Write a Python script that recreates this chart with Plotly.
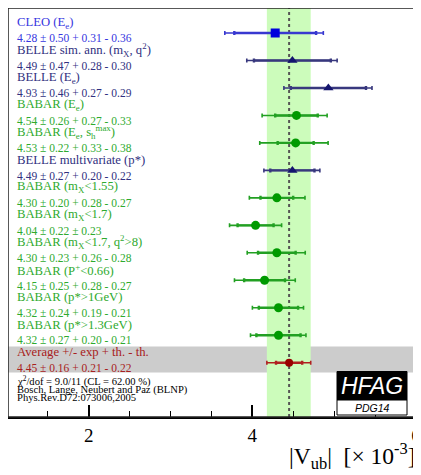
import plotly.graph_objects as go
import numpy as np

# ---- data ----
names = [
    "CLEO (E<sub>e</sub>)",
    "BELLE sim. ann. (m<sub>X</sub>, q<sup>2</sup>)",
    "BELLE (E<sub>e</sub>)",
    "BABAR (E<sub>e</sub>)",
    "BABAR (E<sub>e</sub>, s<sub>h</sub><sup>max</sup>)",
    "BELLE multivariate (p*)",
    "BABAR (m<sub>X</sub>&lt;1.55)",
    "BABAR (m<sub>X</sub>&lt;1.7)",
    "BABAR (m<sub>X</sub>&lt;1.7, q<sup>2</sup>&gt;8)",
    "BABAR (P<sup>+</sup>&lt;0.66)",
    "BABAR (p*&gt;1GeV)",
    "BABAR (p*&gt;1.3GeV)",
]
experiments = ["CLEO", "BELLE", "BELLE", "BABAR", "BABAR", "BELLE",
               "BABAR", "BABAR", "BABAR", "BABAR", "BABAR", "BABAR"]
values = [4.28, 4.49, 4.93, 4.54, 4.53, 4.49, 4.30, 4.04, 4.30, 4.15, 4.32, 4.32]
exp_err = [0.50, 0.47, 0.46, 0.26, 0.22, 0.27, 0.20, 0.22, 0.23, 0.25, 0.24, 0.27]
th_plus = [0.31, 0.28, 0.27, 0.27, 0.33, 0.20, 0.28, 0.23, 0.26, 0.28, 0.19, 0.20]
th_minus = [0.36, 0.30, 0.29, 0.33, 0.38, 0.22, 0.27, 0.23, 0.28, 0.27, 0.21, 0.21]

avg_name = "Average +/- exp + th. - th."
avg_value = 4.45
avg_exp = 0.16
avg_th_plus = 0.21
avg_th_minus = 0.22

footer = [
    "χ<sup>2</sup>/dof = 9.0/11 (CL = 62.00 %)",
    "Bosch, Lange, Neubert and Paz (BLNP)",
    "Phys.Rev.D72:073006,2005",
]
x_ticks = [2, 4, 6]

# ---- styles ----
styles = {
    "CLEO": dict(marker="square", mcolor="#0000dd", bcolor="#3838d0", tcolor="#3535e0"),
    "BELLE": dict(marker="triangle-up", mcolor="#15156e", bcolor="#38387e", tcolor="#303080"),
    "BABAR": dict(marker="circle", mcolor="#009a00", bcolor="#22a022", tcolor="#2eaa2e"),
    "AVG": dict(marker="circle", mcolor="#990000", bcolor="#b02020", tcolor="#a82020"),
}

SERIF = "Liberation Serif, Times New Roman, serif"

# page geometry (page body adds 8px offset)
OFF = 8
PL, PR, PT, PB = 8, 416, 8, 417   # plot area in page pixels
PW, PH = PR - PL, PB - PT

def px2paper_x(xpx):
    return (xpx - PL) / PW

def px2paper_y(ypx):
    return (PB - ypx) / PH

fig = go.Figure()

def fmt(v, e, tp, tm):
    if abs(tp - tm) < 1e-9:
        return f"{v:.2f} ± {e:.2f} ± {tp:.2f}"
    return f"{v:.2f} ± {e:.2f} + {tp:.2f} - {tm:.2f}"

rows = []
for i in range(len(values)):
    rows.append((i, values[i], exp_err[i], th_plus[i], th_minus[i], names[i], experiments[i]))
rows.append((len(values), avg_value, avg_exp, avg_th_plus, avg_th_minus, avg_name, "AVG"))

n_rows = len(rows)
annotations = []
TX = px2paper_x(15)
for (i, v, e, tp, tm, nm, ex) in rows:
    st = styles[ex]
    tot_p = float(np.sqrt(e**2 + tp**2))
    tot_m = float(np.sqrt(e**2 + tm**2))
    # outer (total) error
    fig.add_trace(go.Scatter(
        x=[v], y=[i], mode="markers",
        marker=dict(size=1, color="rgba(0,0,0,0)"),
        error_x=dict(type="data", symmetric=False, array=[tot_p], arrayminus=[tot_m],
                     color=st["bcolor"], thickness=1.6, width=2),
        showlegend=False, hoverinfo="skip"))
    # inner (exp) error
    fig.add_trace(go.Scatter(
        x=[v], y=[i], mode="markers",
        marker=dict(size=9 if ex != "AVG" else 8, color=st["mcolor"], symbol=st["marker"]),
        error_x=dict(type="data", symmetric=True, array=[e],
                     color=st["bcolor"], thickness=2.4, width=2),
        showlegend=False, hoverinfo="skip"))
    annotations.append(dict(xref="paper", yref="y", x=TX, y=i - 0.38, text=nm,
                            showarrow=False, xanchor="left", yanchor="middle",
                            font=dict(family=SERIF, size=12.7, color=st["tcolor"])))
    annotations.append(dict(xref="paper", yref="y", x=TX, y=i + 0.19, text=fmt(v, e, tp, tm),
                            showarrow=False, xanchor="left", yanchor="middle",
                            font=dict(family=SERIF, size=11.5, color=st["tcolor"])))

for k, (txt, yy) in enumerate(zip(footer, [12.67, 12.99, 13.28])):
    annotations.append(dict(xref="paper", yref="y", x=TX, y=yy, text=txt,
                            showarrow=False, xanchor="left", yanchor="middle",
                            font=dict(family=SERIF, size=10.6, color="black")))

# axis title
annotations.append(dict(xref="paper", yref="paper", x=px2paper_x(418), y=px2paper_y(456),
                        text="|V<sub>ub</sub>|&nbsp;&nbsp;[× 10<sup>-3</sup>]",
                        showarrow=False, xanchor="right", yanchor="middle",
                        font=dict(family=SERIF, size=23.5, color="black")))

# HFAG logo
annotations.append(dict(xref="paper", yref="paper", x=px2paper_x(372), y=px2paper_y(386),
                        text="<i>HFAG</i>", showarrow=False, xanchor="center", yanchor="middle",
                        font=dict(family="Liberation Sans, Arial, sans-serif", size=23, color="white")))
annotations.append(dict(xref="paper", yref="paper", x=px2paper_x(372), y=px2paper_y(407.5),
                        text="<i>PDG14</i>", showarrow=False, xanchor="center", yanchor="middle",
                        font=dict(family="Liberation Sans, Arial, sans-serif", size=10.5, color="black")))

tot_avg_p = float(np.sqrt(avg_exp**2 + avg_th_plus**2))
tot_avg_m = float(np.sqrt(avg_exp**2 + avg_th_minus**2))

ROW0 = 33.0      # page y of first row
ROWH = 27.475    # px per row

shapes = [
    # gray average band
    dict(type="rect", xref="paper", yref="y", x0=0, x1=1, y0=n_rows - 1 - 0.59, y1=n_rows - 1 + 0.36,
         fillcolor="#cccccc", line=dict(width=0), layer="below"),
    # green band
    dict(type="rect", xref="x", yref="paper", x0=avg_value - tot_avg_m, x1=avg_value + tot_avg_p,
         y0=0, y1=1, fillcolor="#ccfcbb", line=dict(width=0), layer="below"),
    # dotted average line
    dict(type="line", xref="x", yref="paper", x0=avg_value, x1=avg_value, y0=0, y1=1,
         line=dict(color="#555555", width=2, dash="dot"), layer="below"),
    # logo black box
    dict(type="rect", xref="paper", yref="paper", x0=px2paper_x(337), x1=px2paper_x(407),
         y0=px2paper_y(400), y1=px2paper_y(371.5), fillcolor="black", line=dict(color="black", width=1)),
    # logo white box
    dict(type="rect", xref="paper", yref="paper", x0=px2paper_x(337), x1=px2paper_x(407),
         y0=px2paper_y(415), y1=px2paper_y(400), fillcolor="white", line=dict(color="black", width=1)),
    # frame
    dict(type="rect", xref="paper", yref="paper", x0=0, x1=1, y0=0, y1=1,
         line=dict(color="#222222", width=1.5), fillcolor="rgba(0,0,0,0)"),
]

y_top = (PT - ROW0) / ROWH
y_bot = (PB - ROW0) / ROWH
x_scale = 81.8
x_min = 2 - (88.7 - PL) / x_scale
x_max = x_min + PW / x_scale

W, H = 421 - OFF, 475 - OFF
fig.update_layout(
    width=W, height=H,
    margin=dict(l=PL - OFF, r=W - (PR - OFF), t=PT - OFF, b=H - (PB - OFF), autoexpand=False),
    paper_bgcolor="white", plot_bgcolor="white",
    showlegend=False,
    annotations=annotations,
    shapes=shapes,
    xaxis=dict(range=[x_min, x_max], tickvals=x_ticks, ticktext=[str(t) for t in x_ticks],
               ticks="inside", ticklen=12, tickwidth=1.5, tickcolor="black",
               minor=dict(dtick=0.5, tick0=1, ticks="inside", ticklen=6, tickwidth=1.2, tickcolor="black"),
               showgrid=False, zeroline=False, showline=True, linecolor="black", linewidth=2,
               tickfont=dict(family=SERIF, size=19, color="black"), fixedrange=True),
    yaxis=dict(range=[y_bot, y_top], showticklabels=False, ticks="", showgrid=False,
               zeroline=False, showline=False, fixedrange=True),
)

fig.write_html("out.html")
